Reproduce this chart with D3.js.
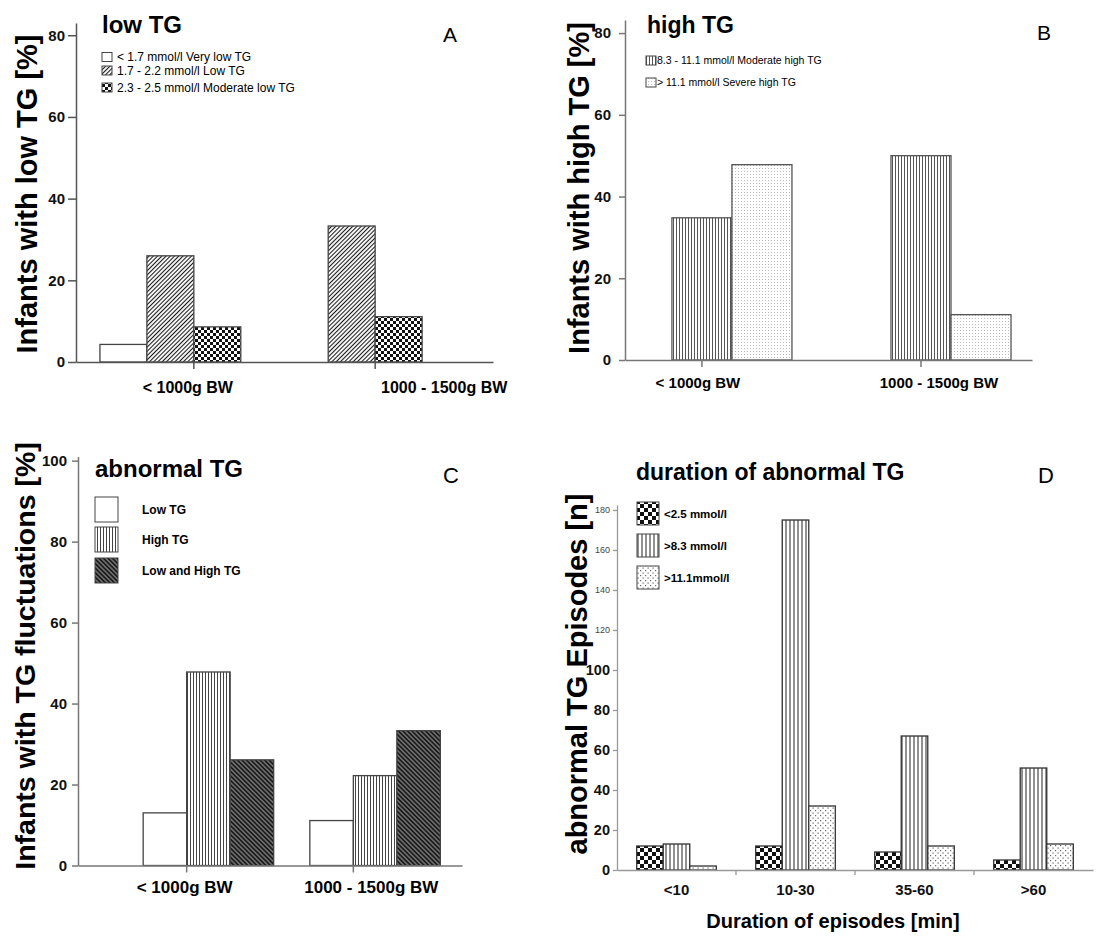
<!DOCTYPE html>
<html>
<head>
<meta charset="utf-8">
<script src="https://cdn.jsdelivr.net/npm/d3@7"></script>
<style>
body { margin: 0; background: #fff; }
svg { font-family: "Liberation Sans", Arial, sans-serif; }
</style>
</head>
<body>
<script>

// ---- data ----
var groupsBW = ["< 1000g BW", "1000 - 1500g BW"];

var seriesA = ["< 1.7 mmol/l Very low TG", "1.7 - 2.2 mmol/l Low TG", "2.3 - 2.5 mmol/l Moderate low TG"];
var valuesA = [[4.3, 26.0, 8.6], [0, 33.3, 11.1]];
var yTicksA = [0, 20, 40, 60, 80];

var seriesB = ["8.3 - 11.1 mmol/l Moderate high TG", "> 11.1 mmol/l Severe high TG"];
var valuesB = [[34.8, 47.8], [50.0, 11.1]];
var yTicksB = [0, 20, 40, 60, 80];

var seriesC = ["Low TG", "High TG", "Low and High TG"];
var valuesC = [[13.0, 47.8, 26.1], [11.1, 22.2, 33.3]];
var yTicksC = [0, 20, 40, 60, 80, 100];

var groupsD = ["<10", "10-30", "35-60", ">60"];
var seriesD = ["<2.5 mmol/l", ">8.3 mmol/l", ">11.1mmol/l"];
var valuesD = [[12, 13, 2], [12, 175, 32], [9, 67, 12], [5, 51, 13]];
var yTicksD = [0, 20, 40, 60, 80, 100, 120, 140, 160, 180];

var svg = d3.select("body").append("svg")
  .attr("width", 1118)
  .attr("height", 936);

svg.append("rect").attr("width", 1118).attr("height", 936).attr("fill", "#fff");

// ---- fill patterns ----
var defs = svg.append("defs");

function linePattern(id, size, angle, stroke, sw, bg) {
  var p = defs.append("pattern")
    .attr("id", id)
    .attr("patternUnits", "userSpaceOnUse")
    .attr("width", size).attr("height", size)
    .attr("patternTransform", "rotate(" + angle + ")");
  p.append("rect").attr("width", size).attr("height", size).attr("fill", bg);
  p.append("line")
    .attr("x1", size / 2).attr("x2", size / 2)
    .attr("y1", 0).attr("y2", size)
    .attr("stroke", stroke).attr("stroke-width", sw);
}

function checkerPattern(id, cell) {
  var p = defs.append("pattern")
    .attr("id", id)
    .attr("patternUnits", "userSpaceOnUse")
    .attr("width", cell * 2).attr("height", cell * 2);
  p.append("rect").attr("width", cell * 2).attr("height", cell * 2).attr("fill", "#fff");
  p.append("rect").attr("width", cell).attr("height", cell).attr("fill", "#111");
  p.append("rect").attr("x", cell).attr("y", cell).attr("width", cell).attr("height", cell).attr("fill", "#111");
}

function dotPattern(id, size, color, r, staggered) {
  var p = defs.append("pattern")
    .attr("id", id)
    .attr("patternUnits", "userSpaceOnUse")
    .attr("width", size).attr("height", size);
  p.append("rect").attr("width", size).attr("height", size).attr("fill", "#fff");
  p.append("rect").attr("x", 0).attr("y", 0).attr("width", r).attr("height", r).attr("fill", color);
  if (staggered) {
    p.append("rect").attr("x", size / 2).attr("y", size / 2).attr("width", r).attr("height", r).attr("fill", color);
  }
}

linePattern("hatchA", 3, 45, "#1a1a1a", 1.1, "#fff");
checkerPattern("checkA", 3);
linePattern("vertB", 3, 0, "#555", 1, "#fff");
dotPattern("dotB", 3, "#bbb", 1, false);
linePattern("vertC", 3, 0, "#444", 1, "#fff");
linePattern("diagC", 3.2, -45, "#1a1a1a", 2, "#888");
checkerPattern("checkD", 4);
linePattern("vertD", 4, 0, "#222", 1, "#fff");
dotPattern("dotD", 5, "#666", 1.2, true);

// ---- panels ----
var panels = [
  {
    title: "low TG", letter: "A", groups: groupsBW, series: seriesA, values: valuesA, yTicks: yTicksA,
    fills: ["#fff", "url(#hatchA)", "url(#checkA)"],
    ylabel: "Infants with low TG [%]",
    x0: 76, x1: 493, pad: 0.65, align: 0.5, barRatio: 0.259, slotShift: -2, tickShift: 0,
    yMax: 83, yBottom: 362, yTop: 23,
    axisColor: "#555", barStroke: "#444",
    yTickSize: 8, yTickPad: 3, yTickFont: 15,
    labelShift: [-6, 69], labelY: 393, labelFont: 16,
    titleX: 102, titleY: 33, titleFont: 24,
    letterX: 443, letterY: 42, letterFont: 21,
    ylabelX: 37, ylabelY: 194, ylabelFont: 29,
    legend: { x: 102, ys: [52.5, 66, 83], w: 10, h: 9, tx: 117, font: 12 }
  },
  {
    title: "high TG", letter: "B", groups: groupsBW, series: seriesB, values: valuesB, yTicks: yTicksB,
    fills: ["url(#vertB)", "url(#dotB)"],
    ylabel: "Infants with high TG [%]",
    x0: 625, x1: 1032, pad: 0.429, align: 0.569, barRatio: 0.274, slotShift: -1, tickShift: -0.5,
    yMax: 83.2, yBottom: 360, yTop: 20,
    axisColor: "#777", barStroke: "#555",
    yTickSize: 6, yTickPad: 8, yTickFont: 15,
    labelShift: [-4, 18], labelY: 388, labelFont: 15,
    titleX: 647, titleY: 33, titleFont: 23,
    letterX: 1037, letterY: 40, letterFont: 21,
    ylabelX: 589, ylabelY: 188, ylabelFont: 29,
    legend: { x: 646, ys: [56, 78], w: 10, h: 9, tx: 657, font: 10.5 }
  },
  {
    title: "abnormal TG", letter: "C", groups: groupsBW, series: seriesC, values: valuesC, yTicks: yTicksC,
    fills: ["#fff", "url(#vertC)", "url(#diagC)"],
    ylabel: "Infants with TG fluctuations [%]",
    x0: 78, x1: 462, pad: 0.652, align: 0.5, barRatio: 0.261, slotShift: -1, tickShift: 0,
    yMax: 101, yBottom: 865.5, yTop: 456.6,
    axisColor: "#777", barStroke: "#444",
    yTickSize: 6, yTickPad: 5, yTickFont: 15,
    labelShift: [-2, 18], labelY: 893, labelFont: 17,
    titleX: 95, titleY: 477, titleFont: 24,
    letterX: 443, letterY: 483, letterFont: 22,
    ylabelX: 35, ylabelY: 656, ylabelFont: 28.5,
    legend: { x: 95, ys: [497, 527, 558], w: 23, h: 25, tx: 142, font: 12, bold: true }
  }
];

function drawLegend(g, p) {
  var L = p.legend;
  p.series.forEach(function(s, i) {
    g.append("rect")
      .attr("x", L.x).attr("y", L.ys[i])
      .attr("width", L.w).attr("height", L.h)
      .attr("fill", p.fills[i])
      .attr("stroke", "#444").attr("stroke-width", 1);
    g.append("text")
      .attr("x", L.tx)
      .attr("y", L.ys[i] + L.h / 2)
      .attr("dy", "0.35em")
      .style("font-size", L.font + "px")
      .style("font-weight", L.bold ? "bold" : "normal")
      .text(s);
  });
}

function drawText(g, p) {
  g.append("text")
    .attr("x", p.titleX).attr("y", p.titleY)
    .style("font-size", p.titleFont + "px").style("font-weight", "bold")
    .text(p.title);
  g.append("text")
    .attr("x", p.letterX).attr("y", p.letterY)
    .style("font-size", p.letterFont + "px")
    .text(p.letter);
  g.append("text")
    .attr("transform", "translate(" + p.ylabelX + "," + p.ylabelY + ") rotate(-90)")
    .attr("text-anchor", "middle")
    .style("font-size", p.ylabelFont + "px").style("font-weight", "bold")
    .text(p.ylabel);
}

panels.forEach(function(p) {
  var g = svg.append("g");

  var x = d3.scalePoint()
    .domain(p.groups)
    .range([p.x0, p.x1])
    .padding(p.pad)
    .align(p.align);
  var bw = x.step() * p.barRatio;

  var y = d3.scaleLinear()
    .domain([0, p.yMax])
    .range([p.yBottom, p.yTop]);

  // bars (zero values leave their slot empty)
  p.groups.forEach(function(grp, gi) {
    var bars = p.values[gi]
      .map(function(v, i) { return { v: v, i: i }; })
      .filter(function(d) { return d.v > 0; });
    g.selectAll(null)
      .data(bars)
      .enter().append("rect")
      .attr("x", function(d) { return x(grp) + (d.i + p.slotShift) * bw; })
      .attr("y", function(d) { return y(d.v); })
      .attr("width", bw)
      .attr("height", function(d) { return y(0) - y(d.v); })
      .attr("fill", function(d) { return p.fills[d.i]; })
      .attr("stroke", p.barStroke)
      .attr("stroke-width", 1.3);
  });

  // y axis
  var yAxis = g.append("g")
    .attr("transform", "translate(" + p.x0 + ",0)")
    .call(d3.axisLeft(y).tickValues(p.yTicks).tickSize(p.yTickSize).tickPadding(p.yTickPad).tickSizeOuter(0));
  yAxis.selectAll("path, line").attr("stroke", p.axisColor).attr("stroke-width", 1.5);
  yAxis.selectAll("text")
    .attr("fill", "#111")
    .style("font-size", p.yTickFont + "px").style("font-weight", "bold")
    .style("font-family", "'Liberation Sans', Arial, sans-serif");

  // x axis
  var xAxis = g.append("g")
    .attr("transform", "translate(0," + y(0) + ")")
    .call(d3.axisBottom(x).tickFormat("").tickSize(7).tickSizeOuter(0));
  xAxis.selectAll(".tick")
    .attr("transform", function(d) { return "translate(" + (x(d) + p.tickShift * bw) + ",0)"; });
  xAxis.selectAll("path, line").attr("stroke", p.axisColor).attr("stroke-width", 1.5);

  g.selectAll(null)
    .data(p.groups)
    .enter().append("text")
    .attr("x", function(d, i) { return x(d) + p.tickShift * bw + p.labelShift[i]; })
    .attr("y", p.labelY)
    .attr("text-anchor", "middle")
    .style("font-size", p.labelFont + "px").style("font-weight", "bold")
    .text(function(d) { return d; });

  drawText(g, p);
  drawLegend(g, p);
});

// ---- panel D (band scale, count axis) ----
(function() {
  var p = {
    title: "duration of abnormal TG", letter: "D", series: seriesD,
    fills: ["url(#checkD)", "url(#vertD)", "url(#dotD)"],
    ylabel: "abnormal TG Episodes [n]",
    titleX: 636, titleY: 480, titleFont: 23,
    letterX: 1038, letterY: 483, letterFont: 22,
    ylabelX: 587, ylabelY: 674, ylabelFont: 29,
    legend: { x: 637, ys: [502, 534, 566], w: 22, h: 23, tx: 664, font: 11.5, bold: true }
  };
  var g = svg.append("g");

  var x = d3.scaleBand()
    .domain(groupsD)
    .range([617, 1093]);
  var bw = x.bandwidth() * 0.223;

  var y = d3.scaleLinear()
    .domain([0, 182.5])
    .range([870, 505]);

  groupsD.forEach(function(grp, gi) {
    var start = x(grp) + (x.bandwidth() - seriesD.length * bw) / 2;
    g.selectAll(null)
      .data(valuesD[gi])
      .enter().append("rect")
      .attr("x", function(d, i) { return start + i * bw; })
      .attr("y", function(d) { return y(d); })
      .attr("width", bw)
      .attr("height", function(d) { return y(0) - y(d); })
      .attr("fill", function(d, i) { return p.fills[i]; })
      .attr("stroke", "#333")
      .attr("stroke-width", 1.3);
  });

  // upper ticks are small and light, lower ones bold, as in the source figure
  var yAxis = g.append("g")
    .attr("transform", "translate(617,0)")
    .call(d3.axisLeft(y).tickValues(yTicksD).tickSize(4).tickPadding(3).tickSizeOuter(0));
  yAxis.selectAll("path, line").attr("stroke", "#999").attr("stroke-width", 1.3);
  yAxis.selectAll("text")
    .attr("fill", function(d) { return d > 100 ? "#444" : "#111"; })
    .style("font-family", "'Liberation Sans', Arial, sans-serif")
    .style("font-size", function(d) { return d > 100 ? "9px" : "14.5px"; })
    .style("font-weight", function(d) { return d > 100 ? "normal" : "bold"; });

  var xAxis = g.append("g")
    .attr("transform", "translate(0," + y(0) + ")")
    .call(d3.axisBottom(x).tickSize(0).tickSizeOuter(0).tickPadding(14));
  xAxis.select(".domain").attr("stroke", "#999").attr("stroke-width", 1.3);
  xAxis.selectAll("text")
    .attr("fill", "#111")
    .style("font-size", "15px").style("font-weight", "bold")
    .style("font-family", "'Liberation Sans', Arial, sans-serif");
  // category boundaries as ticks
  g.selectAll(null)
    .data(groupsD.slice(1))
    .enter().append("line")
    .attr("x1", function(d) { return x(d); })
    .attr("x2", function(d) { return x(d); })
    .attr("y1", y(0)).attr("y2", y(0) + 5)
    .attr("stroke", "#999").attr("stroke-width", 1.3);

  g.append("text")
    .attr("x", 833).attr("y", 928)
    .attr("text-anchor", "middle")
    .style("font-size", "20px").style("font-weight", "bold")
    .text("Duration of episodes [min]");

  drawText(g, p);
  drawLegend(g, p);
})();

</script>
</body>
</html>
